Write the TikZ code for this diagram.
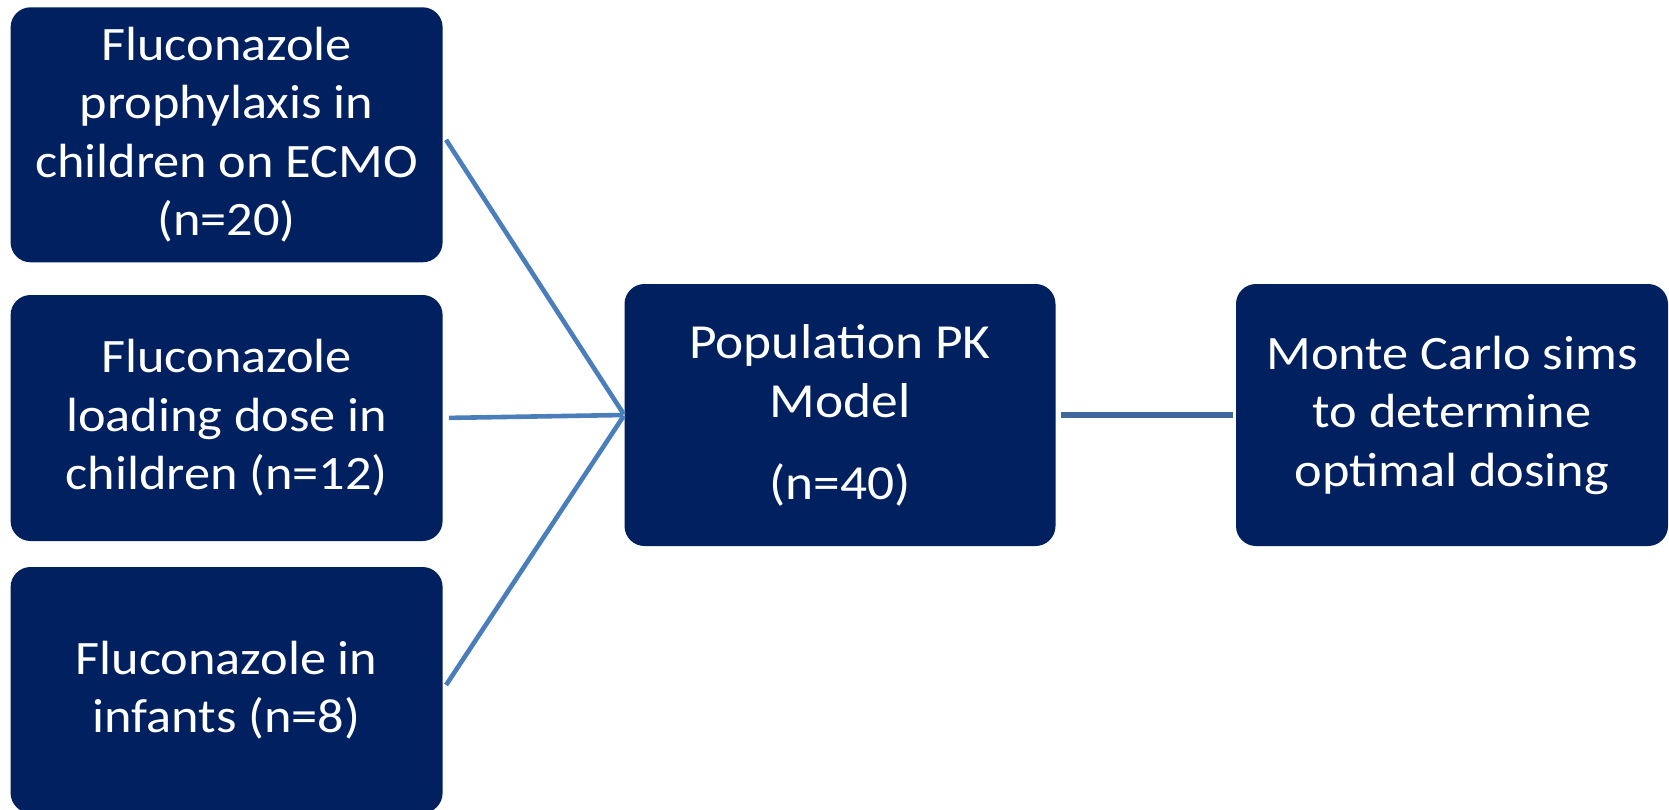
\documentclass[tikz,border=0pt]{standalone}
\usepackage{fontspec}
\setmainfont{Carlito}[FakeStretch=1.09]
\begin{document}
\begin{tikzpicture}[x=1pt,y=-1pt,
  box/.style={rectangle, rounded corners=20pt, fill={rgb,255:red,0;green,32;blue,96}, draw=none,
    text=white, align=center, inner sep=0pt,
    font=\fontsize{48}{58.5}\selectfont},
  conn/.style={draw={rgb,255:red,74;green,126;blue,187}, line width=4.6pt},
  conn2/.style={draw={rgb,255:red,65;green,104;blue,156}, line width=5.5pt}]
\useasboundingbox (0,0) rectangle (1669,809);
\clip (0,0) rectangle (1669,809);
\node[box, minimum width=432pt, minimum height=255pt] (b1) at (226.6,134.8)
  {Fluconazole\\prophylaxis in\\children on ECMO\\(n=20)};
\node[box, minimum width=432pt, minimum height=246pt] (b2) at (226.6,418)
  {Fluconazole\\loading dose in\\children (n=12)};
\node[box, minimum width=432pt, minimum height=246pt] (b3) at (226.6,690)
  {Fluconazole in\\infants (n=8)};
\node[box, minimum width=431pt, minimum height=262pt, font=\fontsize{49}{59}\selectfont] (pk) at (840,415)
  {Population PK\\Model\\[23pt](n=40)};
\node[box, minimum width=432pt, minimum height=262pt] (mc) at (1452,415)
  {Monte Carlo sims\\to determine\\optimal dosing};
\draw[conn, shorten <=6pt, shorten >=1pt] (b1.east) -- (pk.west);
\draw[conn, shorten <=6pt, shorten >=1pt] (b2.east) -- (pk.west);
\draw[conn, shorten <=6pt, shorten >=1pt] (b3.east) -- (pk.west);
\draw[conn2, shorten <=5.5pt, shorten >=3pt] (pk.east) -- (mc.west);
\end{tikzpicture}
\end{document}
